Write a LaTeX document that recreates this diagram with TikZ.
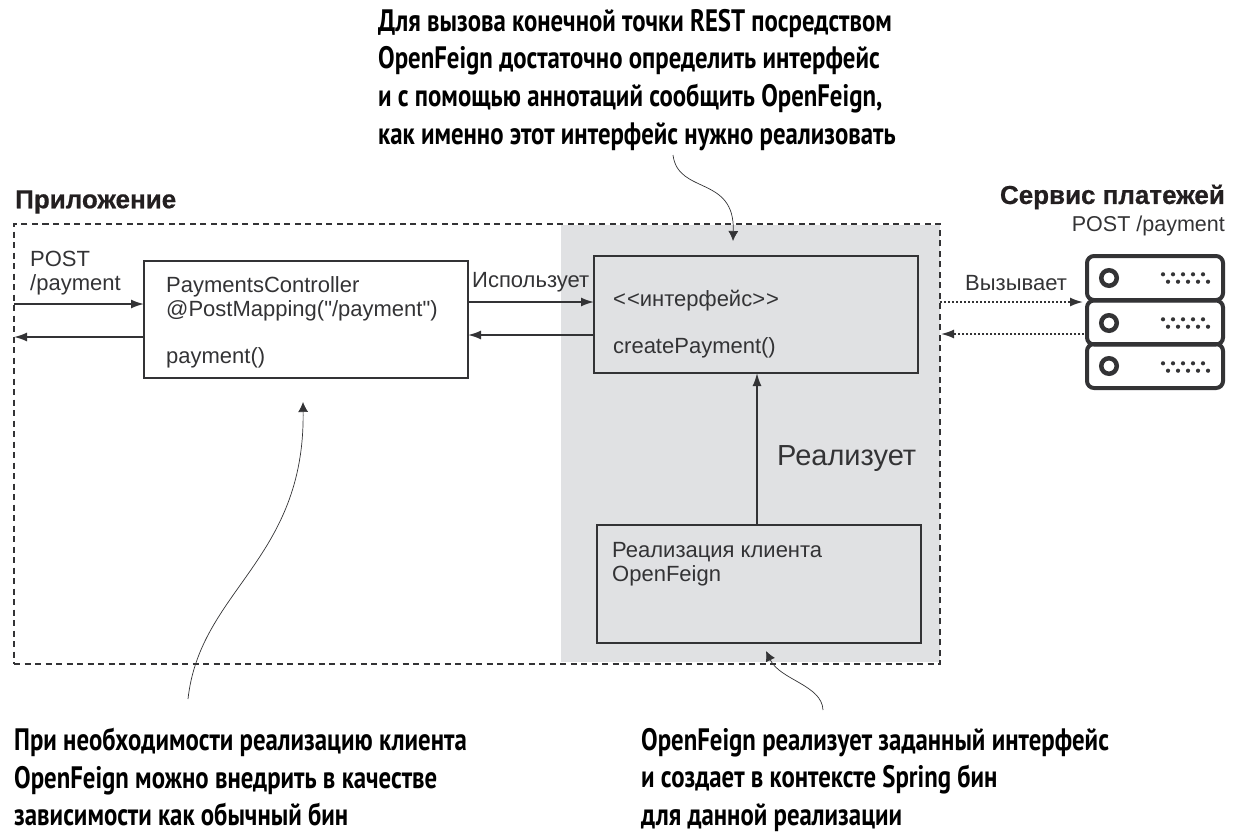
\documentclass[tikz,border=0pt]{standalone}
\usepackage{fontspec}
\setmainfont[Ligatures=TeXOff]{Liberation Sans}
\newfontfamily\callfont[FakeStretch=0.8]{PT Sans Bold}
\newfontfamily\headfont[FakeBold=0.6]{Liberation Sans Bold}
\usetikzlibrary{arrows.meta}
\definecolor{ink}{HTML}{333335}
\definecolor{headink}{HTML}{231F20}
\definecolor{panelgray}{HTML}{E0E1E3}
\tikzset{x=1pt,y=-1pt,
 box/.style={draw=ink,line width=1.7pt,minimum width=#1,inner sep=0pt,outer sep=0pt},
 label/.style={text=ink,font=\fontsize{22}{24}\selectfont,align=left,inner sep=0pt},
 heading/.style={text=headink,font=\headfont\fontsize{26}{30}\selectfont,inner sep=0pt},
 callout/.style={text=black,font=\callfont\fontsize{31}{37.6}\selectfont,align=left,inner sep=0pt,anchor=north west},
 flow/.style={draw=ink,line width=1.7pt,-{Latex[length=13pt,width=9pt]}},
 dotflow/.style={flow,dash pattern=on 2pt off 2pt},
 lead/.style={draw=ink,line width=0.7pt,-{Latex[length=10pt,width=10pt]}},
 srv/.style={draw=ink,line width=4pt,rounded corners=7pt,minimum width=136pt,minimum height=44pt,inner sep=0pt},
 knob/.style={circle,draw=ink,line width=4.5pt,minimum size=15.5pt,inner sep=0pt}}
\newcommand{\pips}[2]{%
 \foreach \i in {0,...,4}{%
  \fill[ink] (#1+\i*10,#2-3.7) circle (2.1pt);
  \fill[ink] (#1+5+\i*10,#2+3.7) circle (2.1pt);}}
\begin{document}
\begin{tikzpicture}
\useasboundingbox (0,0) rectangle (1236,838);
\fill[panelgray] (561,225) rectangle (940,662);
\node[draw=ink,line width=1.2pt,dash pattern=on 6pt off 4.5pt,minimum width=926pt,minimum height=440pt,inner sep=0pt,outer sep=0pt] (app) at (477,444) {};
\node[box=324pt,minimum height=117pt] (ctrl) at (306,319.5) {};
\node[box=324pt,minimum height=117pt] (iface) at (756,314.5) {};
\node[box=324pt,minimum height=118pt] (impl) at (759,584) {};
\node[label,anchor=north west] (ctrltxt) at (166,276) {PaymentsController\\@PostMapping("/payment")\\[23pt]payment()};
\node[label,anchor=west] (ifa) at (613,301) {<\kern1pt<интерфейс>\kern1pt>};
\node[label,anchor=west] (ifb) at (613,348) {createPayment()};
\node[label,anchor=north west] (impltxt) at (612,542) {Реализация клиента\\OpenFeign};
\node[heading,anchor=west] (apph) at (15,202) {Приложение};
\node[heading,anchor=east] (srvh) at (1225,197) {Сервис платежей};
\node[text=ink,font=\fontsize{21.5}{24}\selectfont,inner sep=0pt,anchor=east] (srvp) at (1225,226) {POST /payment};
\node[label,anchor=north west] (post) at (30,251) {POST\\/payment};
\node[label,anchor=west] (uses) at (472,282) {Использует};
\node[label,anchor=west] (calls) at (965,283) {Вызывает};
\node[text=ink,font=\fontsize{29}{32}\selectfont,inner sep=0pt,anchor=west] (real) at (777,459) {Реализует};
\node[srv] (s1) at (1155,278) {};
\node[srv] (s2) at (1155,322.5) {};
\node[srv] (s3) at (1155,366) {};
\foreach \n/\y in {a/278,b/323,c/366}{\node[knob] (k\n) at (1109,\y) {};}
\pips{1163}{278}\pips{1163}{323}\pips{1163}{367}
\coordinate (in1) at (14,304);
\coordinate (in2) at (14,337);
\coordinate (ca) at (144,304);
\coordinate (cb) at (144,337);
\draw[flow] (in1) -- (ca);
\draw[flow] (cb) -- (in2);
\draw[flow] (ctrl.east |- 0,302) -- (iface.west |- 0,302);
\draw[flow] (iface.west |- 0,335) -- (ctrl.east |- 0,335);
\coordinate (e1) at (940,302);
\coordinate (e2) at (1083,302);
\coordinate (e3) at (1084,334);
\coordinate (e4) at (941,334);
\draw[dotflow] (e1) -- (e2);
\draw[dotflow] (e3) -- (e4);
\draw[flow] (impl.north -| 757,0) -- (iface.south -| 757,0);
\node[callout] (c1) at (378,9) {Для вызова конечной точки REST посредством\\OpenFeign достаточно определить интерфейс\\и с помощью аннотаций сообщить OpenFeign,\\как именно этот интерфейс нужно реализовать};
\node[callout] (c2) at (14,728) {При необходимости реализацию клиента\\OpenFeign можно внедрить в качестве\\зависимости как обычный бин};
\node[callout] (c3) at (641,728) {OpenFeign реализует заданный интерфейс\\и создает в контексте Spring бин\\для данной реализации};
\coordinate (t1) at (673,155);
\coordinate (h1) at (733,241);
\coordinate (t2) at (188,699);
\coordinate (h2) at (303,402);
\coordinate (t3) at (823,710);
\coordinate (h3) at (766,651);
\draw[lead] (t1) .. controls (678,195) and (735,175) .. (h1);
\draw[lead] (t2) .. controls (200,590) and (305,560) .. (h2);
\draw[lead] (t3) .. controls (822,685) and (780,680) .. (h3);
\end{tikzpicture}
\end{document}
